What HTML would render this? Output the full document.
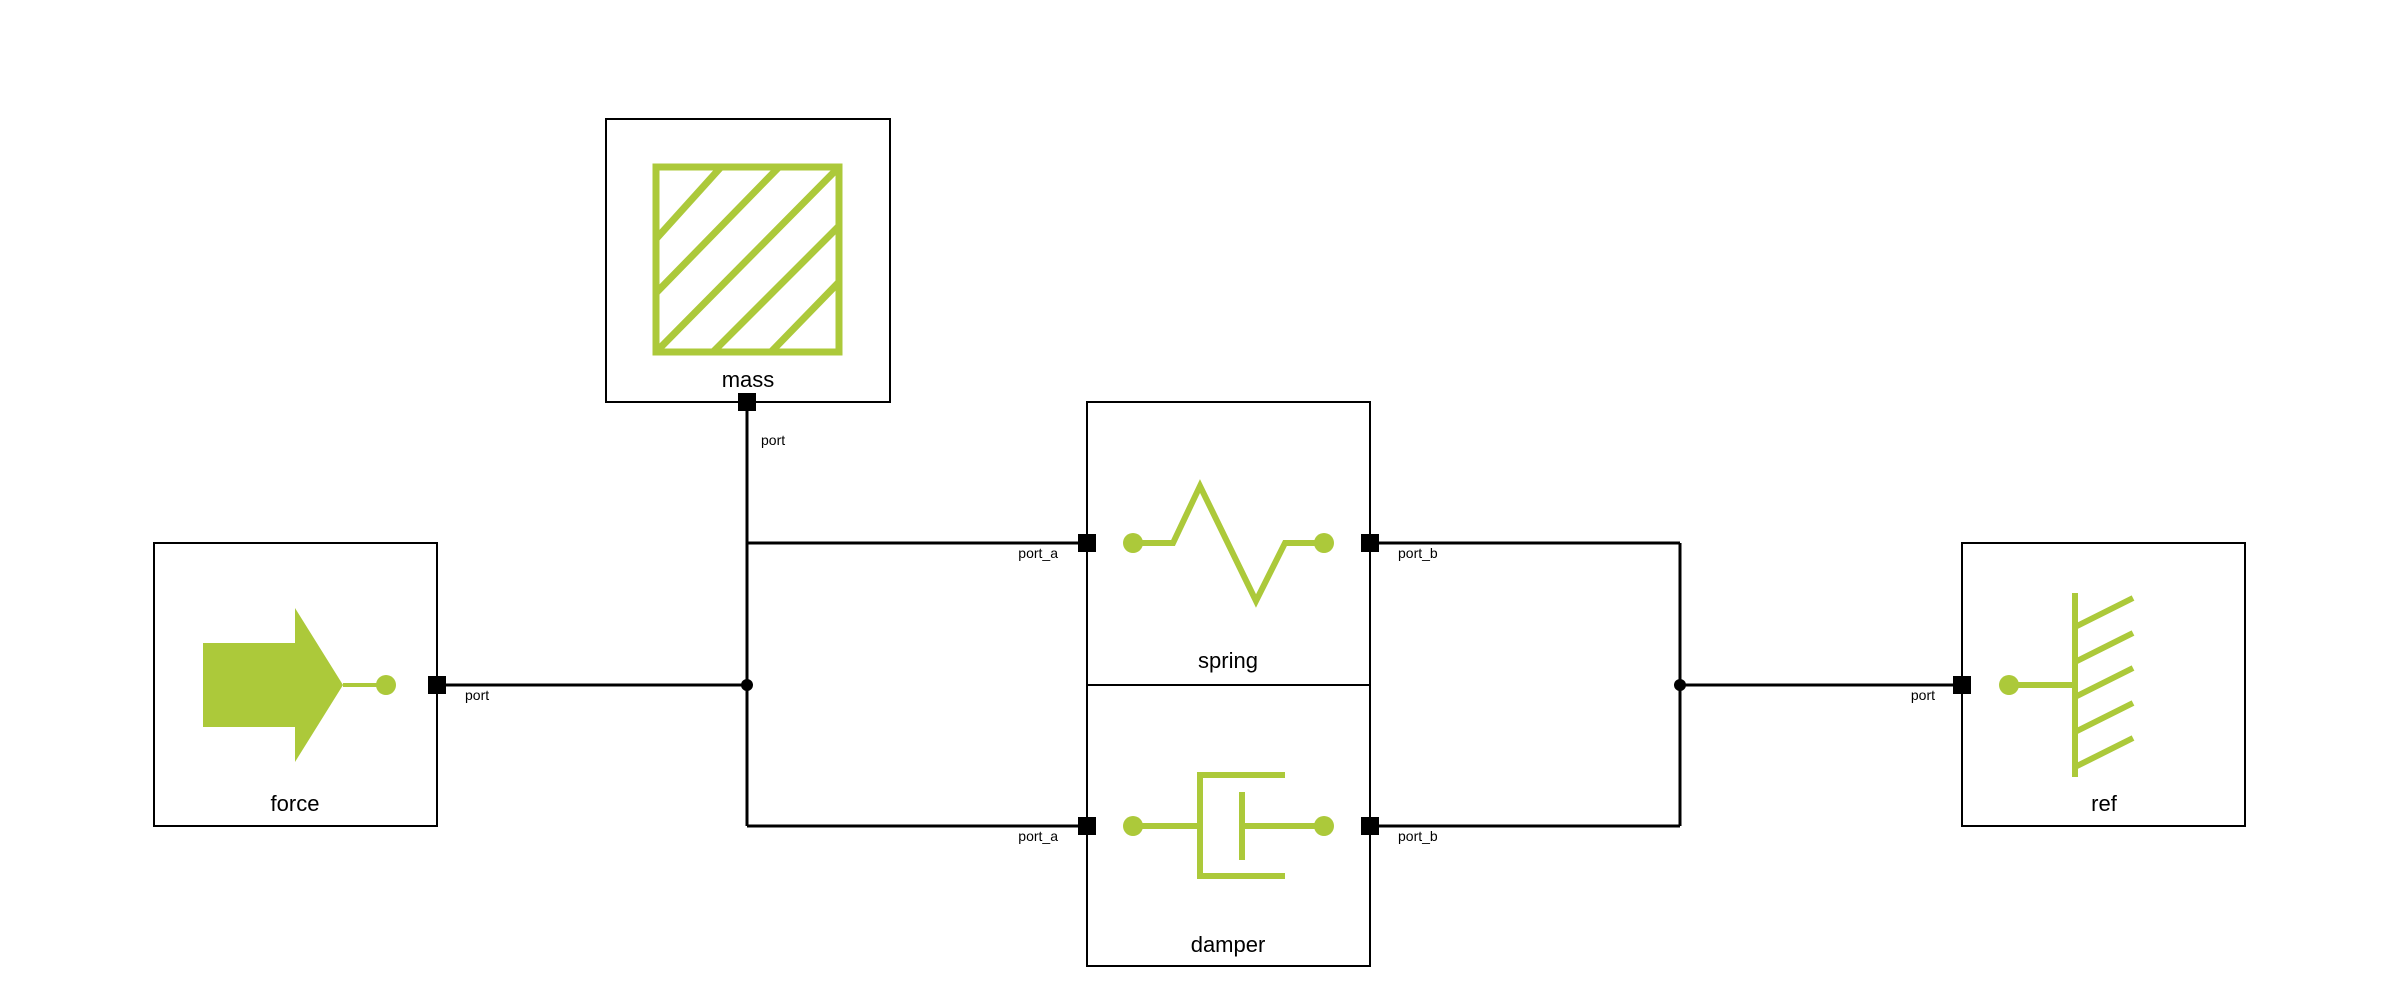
<!DOCTYPE html>
<html><head><meta charset="utf-8"><style>html,body{margin:0;padding:0;background:#fff}svg{display:block}</style></head>
<body>
<svg width="2400" height="1000" viewBox="0 0 2400 1000" xmlns="http://www.w3.org/2000/svg" font-family="Liberation Sans, Arial, sans-serif">
<rect width="2400" height="1000" fill="#fff"/>
<!-- boxes -->
<g fill="none" stroke="#000" stroke-width="2">
<rect x="606" y="119" width="284" height="283"/>
<rect x="154" y="543" width="283" height="283"/>
<rect x="1087" y="402" width="283" height="283"/>
<rect x="1087" y="685" width="283" height="281"/>
<rect x="1962" y="543" width="283" height="283"/>
</g>
<!-- wires -->
<g fill="none" stroke="#000" stroke-width="3">
<line x1="437" y1="685" x2="747" y2="685"/>
<line x1="747" y1="402" x2="747" y2="826"/>
<line x1="747" y1="543" x2="1087" y2="543"/>
<line x1="747" y1="826" x2="1087" y2="826"/>
<line x1="1370" y1="543" x2="1680" y2="543"/>
<line x1="1370" y1="826" x2="1680" y2="826"/>
<line x1="1680" y1="543" x2="1680" y2="826"/>
<line x1="1680" y1="685" x2="1962" y2="685"/>
</g>
<circle cx="747" cy="685" r="6" fill="#000"/>
<circle cx="1680" cy="685" r="6" fill="#000"/>
<!-- ports -->
<g fill="#000">
<rect x="738" y="393" width="18" height="18"/>
<rect x="428" y="676" width="18" height="18"/>
<rect x="1078" y="534" width="18" height="18"/>
<rect x="1078" y="817" width="18" height="18"/>
<rect x="1361" y="534" width="18" height="18"/>
<rect x="1361" y="817" width="18" height="18"/>
<rect x="1953" y="676" width="18" height="18"/>
</g>
<!-- icons -->
<g stroke="#acc93a" fill="none" stroke-width="7">
<rect x="656" y="167" width="183" height="185"/>
<line x1="656" y1="239" x2="721" y2="167"/>
<line x1="656" y1="293" x2="779" y2="167"/>
<line x1="656" y1="352" x2="839" y2="167"/>
<line x1="713" y1="352" x2="839" y2="226"/>
<line x1="771" y1="352" x2="839" y2="282"/>
<polyline stroke-width="6" points="1133,543 1173,543 1200,486 1256,601 1285,543 1324,543"/>
<line stroke-width="6" x1="1133" y1="826" x2="1200" y2="826"/>
<polyline stroke-width="6" points="1285,775 1200,775 1200,876 1285,876"/>
<line stroke-width="6" x1="1242" y1="792" x2="1242" y2="860"/>
<line stroke-width="6" x1="1242" y1="826" x2="1324" y2="826"/>
<line stroke-width="4" x1="343" y1="685" x2="386" y2="685"/>
<line stroke-width="6" x1="2009" y1="685" x2="2075" y2="685"/>
<line stroke-width="6" x1="2075" y1="593" x2="2075" y2="777"/>
<line stroke-width="6" x1="2075" y1="627" x2="2133" y2="598"/>
<line stroke-width="6" x1="2075" y1="662" x2="2133" y2="633"/>
<line stroke-width="6" x1="2075" y1="697" x2="2133" y2="668"/>
<line stroke-width="6" x1="2075" y1="732" x2="2133" y2="703"/>
<line stroke-width="6" x1="2075" y1="767" x2="2133" y2="738"/>
</g>
<g fill="#acc93a">
<circle cx="1133" cy="543" r="10"/><circle cx="1324" cy="543" r="10"/>
<circle cx="1133" cy="826" r="10"/><circle cx="1324" cy="826" r="10"/>
<circle cx="386" cy="685" r="10"/><circle cx="2009" cy="685" r="10"/>
<polygon points="203,643 295,643 295,608 343,685 295,762 295,727 203,727"/>
</g>
<!-- labels -->
<g font-size="22" text-anchor="middle" fill="#000">
<text x="748" y="387">mass</text>
<text x="295" y="811">force</text>
<text x="1228" y="668">spring</text>
<text x="1228" y="952">damper</text>
<text x="2104" y="811">ref</text>
</g>
<g font-size="14" fill="#000">
<text x="761" y="445">port</text>
<text x="465" y="700">port</text>
<text x="1058" y="558" text-anchor="end">port_a</text>
<text x="1058" y="841" text-anchor="end">port_a</text>
<text x="1398" y="558">port_b</text>
<text x="1398" y="841">port_b</text>
<text x="1935" y="700" text-anchor="end">port</text>
</g>
</svg>
</body></html>
